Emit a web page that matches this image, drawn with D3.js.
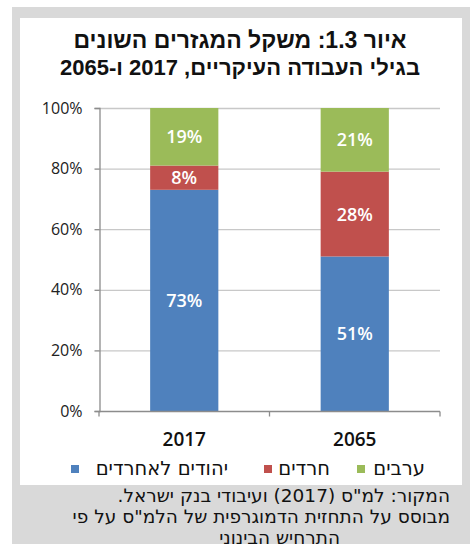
<!DOCTYPE html>
<html>
<head>
<meta charset="utf-8">
<script src="https://cdn.jsdelivr.net/npm/d3@7"></script>
<style>
  html, body { margin: 0; padding: 0; background: #ffffff; }
  svg { display: block; }
</style>
</head>
<body>
<svg id="chart" width="470" height="544"></svg>
<script>
// ---- data ----
const categories = ["2017", "2065"];
const seriesNames = ["יהודים לא-חרדים", "חרדים", "ערבים"];
const legendLabels = ["יהודים לאחרדים", "חרדים", "ערבים"];
const seriesColors = ["#4f81bd", "#c0504d", "#9bbb59"];
const nonHarediJews = [73, 51];
const haredim = [8, 28];
const arabs = [19, 21];
const yTicks = [0, 20, 40, 60, 80, 100];
const titleLines = ["איור 1.3: משקל המגזרים השונים", "בגילי העבודה העיקריים, 2017 ו-2065"];
const sourceLines = ["המקור: למ\"ס (2017) ועיבודי בנק ישראל.", "מבוסס על התחזית הדמוגרפית של הלמ\"ס על פי", "התרחיש הבינוני"];

const svg = d3.select("#chart");

// frame
svg.append("rect").attr("x", 12).attr("y", 7).attr("width", 458).attr("height", 537).attr("fill", "#d9d9d9");
svg.append("rect").attr("x", 20).attr("y", 18).attr("width", 442).attr("height", 467).attr("fill", "#ffffff");

// title
svg.append("g").selectAll("text").data(titleLines).join("text")
  .attr("x", 240).attr("y", (d, i) => 48 + i * 27)
  .attr("text-anchor", "middle").attr("direction", "rtl")
  .attr("font-family", "'Liberation Sans', 'DejaVu Sans', sans-serif")
  .attr("font-weight", "bold").attr("font-size", (d, i) => i === 0 ? 23 : 22).attr("fill", "#111")
  .text(d => d);

// scales
const x = d3.scaleBand().domain(categories).range([99, 440]).padding(0);
const y = d3.scaleLinear().domain([0, 100]).range([411, 108]);
const barW = x.bandwidth() * 0.4;

// gridlines
svg.append("g").selectAll("line").data(yTicks.filter(t => t > 0)).join("line")
  .attr("x1", 99).attr("x2", 440)
  .attr("y1", d => y(d) + 0.5).attr("y2", d => y(d) + 0.5)
  .attr("stroke", "#c8c8c8").attr("stroke-width", 1.3);

// y axis
const yAxis = d3.axisLeft(y).tickValues(yTicks).tickFormat(d => d + "%").tickSize(5).tickPadding(12);
const gy = svg.append("g").attr("transform", "translate(99.5,0)").call(yAxis);
gy.select(".domain").attr("stroke", "#8c8c8c").attr("stroke-width", 1.3);
gy.selectAll(".tick line").attr("stroke", "#8c8c8c").attr("stroke-width", 1.3);
gy.selectAll(".tick text").attr("font-family", "'Open Sans', 'Liberation Sans', sans-serif")
  .attr("font-size", 16).attr("fill", "#222");

// stacked bars
const rows = categories.map((c, i) => ({ cat: c, a: nonHarediJews[i], b: haredim[i], c2: arabs[i] }));
const stack = d3.stack().keys(["a", "b", "c2"])(rows);
const gBars = svg.append("g");
stack.forEach((layer, li) => {
  gBars.append("g").selectAll("rect").data(layer).join("rect")
    .attr("x", d => x(d.data.cat) + (x.bandwidth() - barW) / 2)
    .attr("width", barW)
    .attr("y", d => y(d[1]))
    .attr("height", d => y(d[0]) - y(d[1]))
    .attr("fill", seriesColors[li]);
  gBars.append("g").selectAll("text").data(layer).join("text")
    .attr("x", d => x(d.data.cat) + x.bandwidth() / 2)
    .attr("y", d => (y(d[0]) + y(d[1])) / 2)
    .attr("dy", "0.36em")
    .attr("text-anchor", "middle")
    .attr("font-family", "'Open Sans', 'Liberation Sans', sans-serif")
    .attr("font-weight", 600).attr("font-size", 18).attr("fill", "#ffffff")
    .text(d => (d[1] - d[0]) + "%");
});

// x axis
const gx = svg.append("g").attr("transform", "translate(0,411.5)");
gx.append("line").attr("x1", 99).attr("x2", 440).attr("stroke", "#8c8c8c").attr("stroke-width", 1.3);
gx.selectAll("line.sep").data([99, 99 + x.step(), 440]).join("line").attr("class", "sep")
  .attr("x1", d => d).attr("x2", d => d).attr("y1", 0).attr("y2", 5)
  .attr("stroke", "#8c8c8c").attr("stroke-width", 1.3);
gx.selectAll("text.cat").data(categories).join("text").attr("class", "cat")
  .attr("x", d => x(d) + x.bandwidth() / 2).attr("y", 34)
  .attr("text-anchor", "middle")
  .attr("font-family", "'Open Sans', 'Liberation Sans', sans-serif")
  .attr("font-weight", 600).attr("font-size", 19).attr("fill", "#111")
  .text(d => d);

// legend (RTL: arabs rightmost)
const legendItems = [
  { label: legendLabels[2], color: seriesColors[2], sq: 357, tr: 425 },
  { label: legendLabels[1], color: seriesColors[1], sq: 264, tr: 330 },
  { label: legendLabels[0], color: seriesColors[0], sq: 71, tr: 228 }
];
const gl = svg.append("g");
gl.selectAll("rect").data(legendItems).join("rect")
  .attr("x", d => d.sq).attr("y", 465).attr("width", 8).attr("height", 8).attr("fill", d => d.color);
gl.selectAll("text").data(legendItems).join("text")
  .attr("x", d => d.tr).attr("y", 475)
  .attr("direction", "rtl").attr("text-anchor", "start")
  .attr("font-family", "'DejaVu Sans', 'Liberation Sans', sans-serif")
  .attr("font-size", 19.5).attr("fill", "#111")
  .text(d => d.label);

// source
const sourceRight = [450, 450, 340];
svg.append("g").selectAll("text").data(sourceLines).join("text")
  .attr("x", (d, i) => sourceRight[i]).attr("y", (d, i) => 502 + i * 21)
  .attr("direction", "rtl").attr("text-anchor", "start")
  .attr("font-family", "'DejaVu Sans', 'Liberation Sans', sans-serif")
  .attr("font-size", 18.5).attr("fill", "#111")
  .text(d => d);
</script>
</body>
</html>
